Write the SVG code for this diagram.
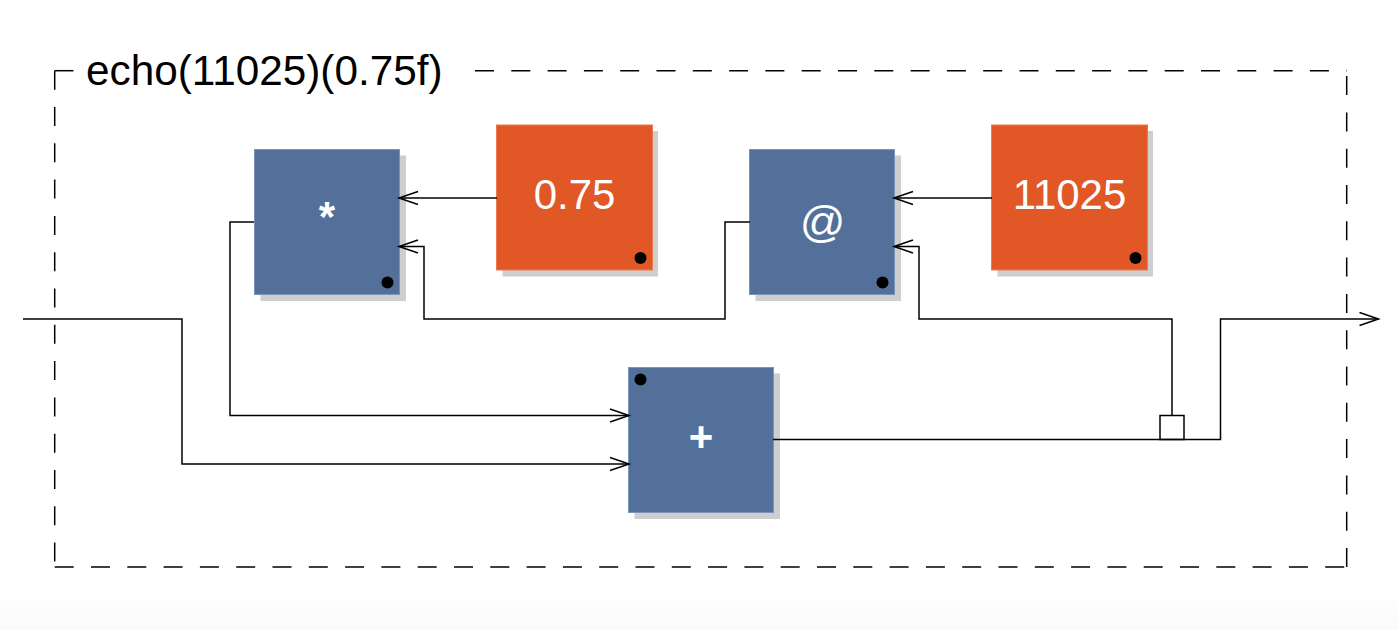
<svg xmlns="http://www.w3.org/2000/svg" width="1398" height="630" viewBox="0 0 1398 630">
<style>
.wire{fill:none;stroke:#000;stroke-width:1.5}
.frame{fill:none;stroke:#000;stroke-width:1.5;stroke-dasharray:19 17.3}
.shadow{fill:#cecece}
.blue{fill:#527099;stroke:#7a94b8;stroke-width:1}
.orange{fill:#e25726;stroke:#ec7a50;stroke-width:1}
.dot{fill:#000}
.label{font-family:"Liberation Sans",Arial,sans-serif;font-size:42px;fill:#fff;text-anchor:middle}
.bold{font-weight:bold}
.title{font-family:"Liberation Sans",Arial,sans-serif;font-size:42.3px;fill:#000}
</style>
<defs>
<marker id="arrow" markerUnits="userSpaceOnUse" markerWidth="22" markerHeight="18" refX="20" refY="9" orient="auto" overflow="visible">
<path d="M1 2.500L20 9L1 15.500" fill="none" stroke="#000" stroke-width="1.500"/>
</marker>
<linearGradient id="bg" x1="0" y1="0" x2="0" y2="1"><stop offset="0" stop-color="#fff"/><stop offset="1" stop-color="#fafafa"/></linearGradient>
</defs>
<rect width="1398" height="630" fill="#fff"/>
<rect y="590" width="1398" height="40" fill="url(#bg)"/>
<g id="frame">
<path class="frame" d="M54.700 70.700V567"/>
<path class="frame" d="M54.700 567H1346.700"/>
<path class="frame" d="M1346.700 567V70.700"/>
<path class="frame" d="M475 70.700H1346.700"/>
<path class="wire" d="M54.700 70.700H73.500"/>
<text class="title" x="86" y="85">echo(11025)(0.75f)</text>
</g>
<g id="mul">
<rect class="shadow" x="260.500" y="155.500" width="145.500" height="145.500"/>
<rect class="blue" x="254.500" y="149.500" width="145" height="145"/>
<circle class="dot" cx="387.500" cy="282.500" r="6"/>
<text class="label bold" x="327" y="231">*</text>
</g>
<g id="const075">
<rect class="shadow" x="502.500" y="131" width="155.500" height="145.500"/>
<rect class="orange" x="496.500" y="125" width="156" height="145"/>
<circle class="dot" cx="640.500" cy="258" r="6"/>
<text class="label" x="574.500" y="209">0.75</text>
</g>
<g id="delay">
<rect class="shadow" x="755.500" y="155.500" width="145.500" height="145.500"/>
<rect class="blue" x="749.500" y="149.500" width="145" height="145"/>
<circle class="dot" cx="882.500" cy="282.500" r="6"/>
<text class="label" x="822.500" y="236.500" style="font-size:45px">@</text>
</g>
<g id="const11025">
<rect class="shadow" x="997.500" y="131" width="155.500" height="145.500"/>
<rect class="orange" x="991.500" y="125" width="156" height="145"/>
<circle class="dot" cx="1135.500" cy="258" r="6"/>
<text class="label" x="1069.500" y="209">11025</text>
</g>
<g id="add">
<rect class="shadow" x="634.500" y="373.500" width="145.500" height="145.500"/>
<rect class="blue" x="628.500" y="367.500" width="145" height="145"/>
<circle class="dot" cx="640.500" cy="379.500" r="6"/>
<text class="label bold" x="701" y="451">+</text>
</g>
<g id="connectors">
<path class="wire" d="M23 319H182V464H629" marker-end="url(#arrow)"/>
<path class="wire" d="M254 222H230V415.500H629" marker-end="url(#arrow)"/>
<path class="wire" d="M497 198H399" marker-end="url(#arrow)"/>
<path class="wire" d="M750 222H725V319H424V246.500H399" marker-end="url(#arrow)"/>
<path class="wire" d="M992 198H894" marker-end="url(#arrow)"/>
<path class="wire" d="M1172 415.500V319H919V246.500H894" marker-end="url(#arrow)"/>
<path class="wire" d="M773 439.500H1220.500V319H1378.500" marker-end="url(#arrow)"/>
<rect class="wire" x="1160" y="415.500" width="24" height="24"/>
</g>
</svg>
